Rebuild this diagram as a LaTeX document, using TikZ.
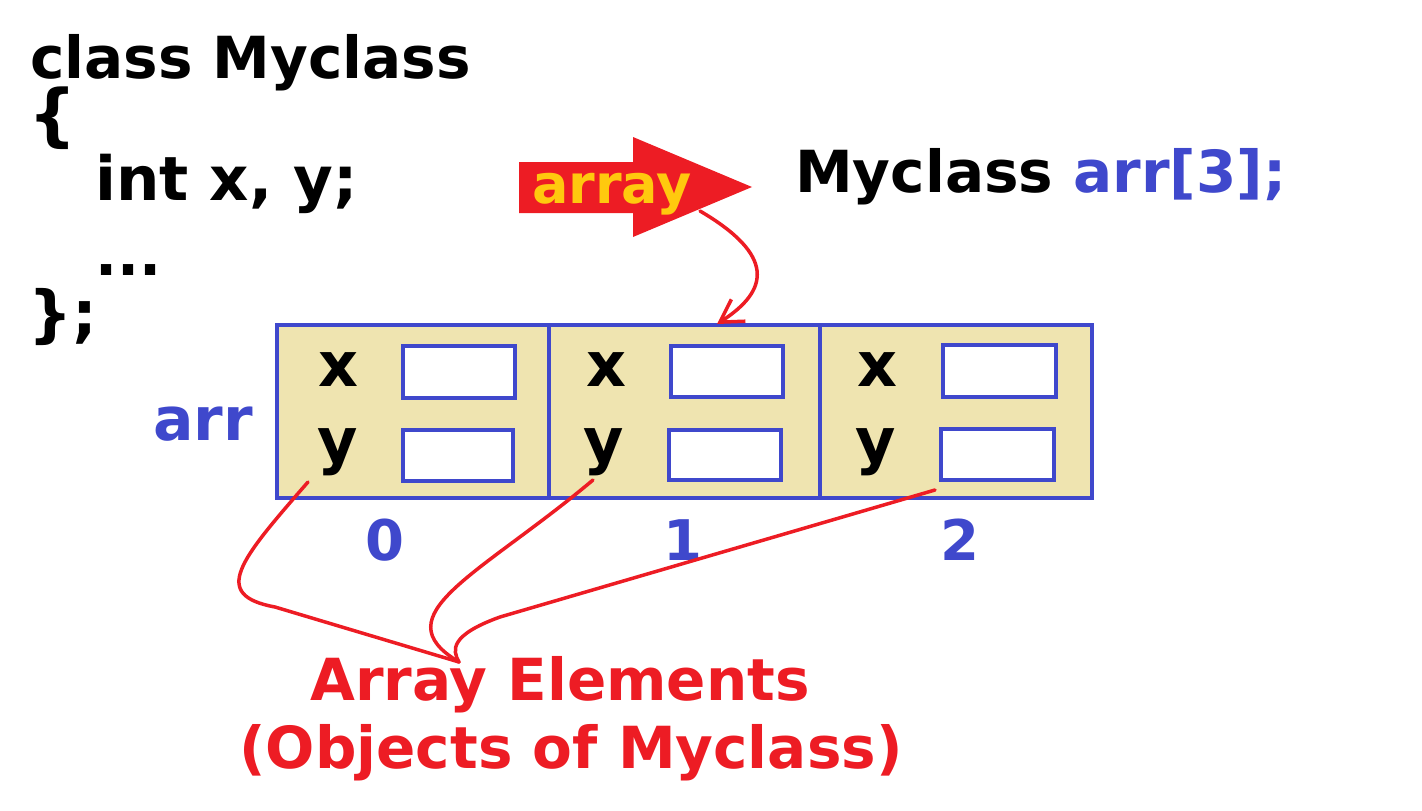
\documentclass[tikz,border=0pt]{standalone}
\usepackage{fontspec}
\setmainfont{DejaVu Sans}
\usetikzlibrary{arrows.meta}
\definecolor{cred}{HTML}{ED1C24}
\definecolor{cblue}{HTML}{3F48CC}
\definecolor{cbeige}{HTML}{EFE4B0}
\definecolor{cyel}{HTML}{FFC90E}
\tikzset{
  code/.style={font=\fontsize{58}{58}\selectfont\bfseries, inner sep=0pt, text=black},
  lbl/.style={font=\fontsize{62}{62}\selectfont\bfseries, inner sep=0pt, text=black},
  idx/.style={font=\fontsize{56}{56}\selectfont\bfseries, inner sep=0pt, text=cblue},
  redtxt/.style={font=\fontsize{58}{58}\selectfont\bfseries, inner sep=0pt, text=cred},
  slot/.style={draw=cblue, line width=4pt, fill=white},
  cell/.style={draw=cblue, line width=4.5pt, fill=cbeige},
  conn/.style={draw=cred, line width=3.5pt, line cap=round},
}
\begin{document}
\begin{tikzpicture}[x=1pt,y=-1pt]
\useasboundingbox (0,0) rectangle (1422,811);
% code
\node[code, anchor=base west] (l1) at (30,78) {class Myclass};
\node[code, anchor=base west, font=\fontsize{68}{68}\selectfont\bfseries] (l2) at (28,138) {\{};
\node[code, anchor=base west, font=\fontsize{61}{61}\selectfont\bfseries] (l3) at (95,200) {int x, y;};
\node[code, anchor=base west] (l4) at (95,275) {...};
\node[code, anchor=base west, font=\fontsize{62}{62}\selectfont\bfseries] (l5) at (28,335) {\};};
\node[code, anchor=base west] (decl) at (795,192) {Myclass \textcolor{cblue}{arr[3];}};
% big arrow
\fill[cred] (519,162) -- (633,162) -- (633,137) -- (752,187) -- (633,237) -- (633,213) -- (519,213) -- cycle;
\node[font=\fontsize{54}{54}\selectfont\bfseries, text=cyel, inner sep=0pt, anchor=base] (arrlbl) at (612,203) {array};
% cells
\draw[cell] (277,325) rectangle (1092,498);
\draw[cblue, line width=4.5pt] (549,325) -- (549,498);
\draw[cblue, line width=4.5pt] (820,325) -- (820,498);
\coordinate (top1) at (717,324);
% slots
\node[slot, minimum width=112pt, minimum height=52pt, inner sep=0pt] (x0) at (459,372) {};
\node[slot, minimum width=110pt, minimum height=51pt, inner sep=0pt] (y0) at (458,455) {};
\node[slot, minimum width=112pt, minimum height=51pt, inner sep=0pt] (x1) at (727,371) {};
\node[slot, minimum width=112pt, minimum height=50pt, inner sep=0pt] (y1) at (725,455) {};
\node[slot, minimum width=113pt, minimum height=52pt, inner sep=0pt] (x2) at (999,371) {};
\node[slot, minimum width=113pt, minimum height=51pt, inner sep=0pt] (y2) at (997,454) {};
\node[lbl] (lx0) at (338,370) {x};
\node[lbl, anchor=base] (ly0) at (338,462) {y};
\node[lbl] (lx1) at (606,370) {x};
\node[lbl, anchor=base] (ly1) at (604,462) {y};
\node[lbl] (lx2) at (877,370) {x};
\node[lbl, anchor=base] (ly2) at (876,462) {y};
\node[idx, anchor=base west, font=\fontsize{60}{60}\selectfont\bfseries] (arr) at (153,440) {arr};
\node[idx, anchor=base] (i0) at (385,560) {0};
\node[idx, anchor=base] (i1) at (683,560) {1};
\node[idx, anchor=base] (i2) at (960,560) {2};
% bottom text
\node[redtxt, anchor=base] (t1) at (560,700) {Array Elements};
\node[redtxt, anchor=base] (t2) at (571,768) {(Objects of Myclass)};
% connectors
\coordinate (s0) at (308,482);
\coordinate (s1) at (593,480);
\coordinate (s2) at (935,490);
\coordinate (meet) at (459,662);
\coordinate (astart) at (700,211);
\draw[conn, -{Straight Barb[length=22pt,width=26pt,line width=3.5pt]}] (astart) .. controls (775,255) and (770,290) .. (top1);
\draw[conn] (s0) .. controls (240,560) and (210,595) .. (275,607) -- (meet);
\draw[conn] (s1) .. controls (480,575) and (380,615) .. (meet);
\draw[conn] (s2) -- (500,617) .. controls (450,635) and (452,650) .. (meet);
\end{tikzpicture}
\end{document}
